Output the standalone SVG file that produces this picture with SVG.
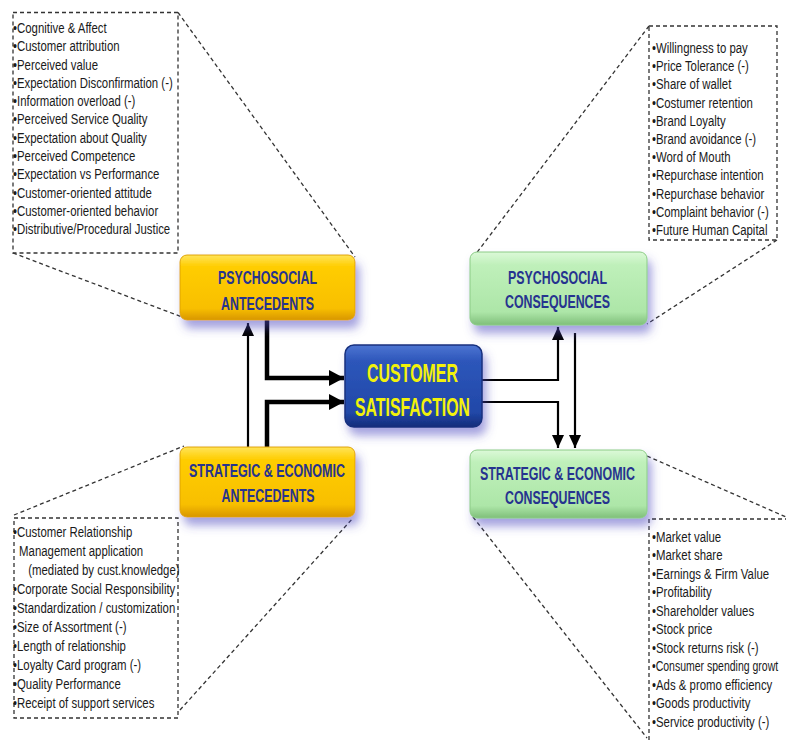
<svg xmlns="http://www.w3.org/2000/svg" width="786" height="740" viewBox="0 0 786 740">
<style>
.dash{fill:none;stroke:#333;stroke-width:1.3;stroke-dasharray:4 3}
.list text{font-family:"Liberation Sans",Arial,sans-serif;font-size:15px;fill:#1a1a1a}
.nt{font-family:"Liberation Sans",Arial,sans-serif;font-weight:bold;font-size:19px;fill:#26338f;text-anchor:middle}
.ct{font-family:"Liberation Sans",Arial,sans-serif;font-weight:bold;font-size:26px;fill:#f2f20a;text-anchor:middle}
.thin{fill:none;stroke:#000;stroke-width:2.2}
.thick{fill:none;stroke:#000;stroke-width:4.5}
</style>
<defs>
<linearGradient id="gy" x1="0" y1="0" x2="0" y2="1">
<stop offset="0" stop-color="#ffe45a"/><stop offset="0.18" stop-color="#ffcd00"/><stop offset="0.82" stop-color="#f8bf00"/><stop offset="1" stop-color="#d89600"/>
</linearGradient>
<linearGradient id="gg" x1="0" y1="0" x2="0" y2="1">
<stop offset="0" stop-color="#dcf9d8"/><stop offset="0.18" stop-color="#bff0ba"/><stop offset="0.82" stop-color="#ade6a8"/><stop offset="1" stop-color="#7fbf7a"/>
</linearGradient>
<linearGradient id="gb" x1="0" y1="0" x2="0" y2="1">
<stop offset="0" stop-color="#4d75d2"/><stop offset="0.2" stop-color="#2d56ba"/><stop offset="0.82" stop-color="#2148a8"/><stop offset="1" stop-color="#152c7a"/>
</linearGradient>
<filter id="sh" x="-20%" y="-30%" width="150%" height="190%">
<feDropShadow dx="4" dy="8" stdDeviation="5" flood-color="#4c44c0" flood-opacity="0.5"/>
</filter>
<marker id="ah" markerUnits="userSpaceOnUse" markerWidth="14" markerHeight="12" refX="13" refY="6" orient="auto">
<path d="M0,0 L13,6 L0,12 Z" fill="#000"/>
</marker>
<marker id="ahb" markerUnits="userSpaceOnUse" markerWidth="16" markerHeight="16" refX="15" refY="8" orient="auto">
<path d="M0,0 L15,8 L0,16 Z" fill="#000"/>
</marker>
</defs>
<rect width="786" height="740" fill="#fff"/>

<g id="callout-psych-ante">
<rect class="dash" x="13" y="12.5" width="165" height="240.5"/>
<line class="dash" x1="178" y1="12.5" x2="355" y2="257"/>
<line class="dash" x1="13" y1="253" x2="182" y2="317"/>
<g class="list" transform="translate(13,0) scale(0.76,1)">
<text x="0" y="33">•Cognitive &amp; Affect</text>
<text x="0" y="51.3">•Customer attribution</text>
<text x="0" y="69.6">•Perceived value</text>
<text x="0" y="87.9">•Expectation Disconfirmation (-)</text>
<text x="0" y="106.2">•Information overload (-)</text>
<text x="0" y="124.5">•Perceived Service Quality</text>
<text x="0" y="142.8">•Expectation about Quality</text>
<text x="0" y="161.1">•Perceived Competence</text>
<text x="0" y="179.4">•Expectation vs Performance</text>
<text x="0" y="197.7">•Customer-oriented attitude</text>
<text x="0" y="216">•Customer-oriented behavior</text>
<text x="0" y="234.3">•Distributive/Procedural Justice</text>
</g>
</g>

<g id="callout-psych-cons">
<rect class="dash" x="649" y="26" width="128" height="214"/>
<line class="dash" x1="649" y1="26" x2="472" y2="259"/>
<line class="dash" x1="777" y1="240" x2="647" y2="324"/>
<g class="list" transform="translate(652,0) scale(0.76,1)">
<text x="0" y="53">•Willingness to pay</text>
<text x="0" y="71.2">•Price Tolerance (-)</text>
<text x="0" y="89.4">•Share of wallet</text>
<text x="0" y="107.6">•Costumer retention</text>
<text x="0" y="125.8">•Brand Loyalty</text>
<text x="0" y="144">•Brand avoidance (-)</text>
<text x="0" y="162.2">•Word of Mouth</text>
<text x="0" y="180.4">•Repurchase intention</text>
<text x="0" y="198.6">•Repurchase behavior</text>
<text x="0" y="216.8">•Complaint behavior (-)</text>
<text x="0" y="235">•Future Human Capital</text>
</g>
</g>

<g id="callout-strat-ante">
<rect class="dash" x="14" y="518" width="164" height="200"/>
<line class="dash" x1="14" y1="515" x2="184" y2="446"/>
<line class="dash" x1="180" y1="710" x2="353" y2="518"/>
<g class="list" transform="translate(13,0) scale(0.76,1)">
<text x="0" y="537">•Customer Relationship</text>
<text x="8" y="556">Management application</text>
<text x="20" y="575">(mediated by cust.knowledge)</text>
<text x="0" y="594">•Corporate Social Responsibility</text>
<text x="0" y="613">•Standardization / customization</text>
<text x="0" y="632">•Size of Assortment (-)</text>
<text x="0" y="651">•Length of relationship</text>
<text x="0" y="670">•Loyalty  Card program (-)</text>
<text x="0" y="689">•Quality Performance</text>
<text x="0" y="708">•Receipt of support services</text>
</g>
</g>

<g id="callout-strat-cons">
<path class="dash" d="M649,740 V519 H786"/>
<line class="dash" x1="473" y1="517" x2="647" y2="738"/>
<line class="dash" x1="647" y1="456" x2="786" y2="517"/>
<g class="list" transform="translate(652,0) scale(0.76,1)">
<text x="0" y="542">•Market value</text>
<text x="0" y="560.5">•Market share</text>
<text x="0" y="579">•Earnings &amp; Firm Value</text>
<text x="0" y="597.5">•Profitability</text>
<text x="0" y="616">•Shareholder values</text>
<text x="0" y="634.5">•Stock price</text>
<text x="0" y="653">•Stock returns risk (-)</text>
<text x="0" y="690">•Ads &amp; promo efficiency</text>
<text x="0" y="708.5">•Goods productivity</text>
<text x="0" y="727">•Service productivity (-)</text>
</g>
<g class="list" transform="translate(652,0) scale(0.70,1)">
<text x="0" y="671.5">•Consumer spending growt</text>
</g>
</g>

<g id="connectors">
<line class="thin" x1="248" y1="447" x2="248" y2="323" marker-end="url(#ah)"/>
<path class="thick" d="M267,320 V378 H344" marker-end="url(#ahb)"/>
<path class="thick" d="M267,447 V402 H344" marker-end="url(#ahb)"/>
<path class="thin" d="M482,380 H558 V327" marker-end="url(#ah)"/>
<path class="thin" d="M482,402 H558 V448" marker-end="url(#ah)"/>
<line class="thin" x1="575" y1="333" x2="575" y2="448" marker-end="url(#ah)"/>
</g>

<g id="node-psych-ante">
<rect x="180" y="255" width="175" height="65" rx="7" fill="url(#gy)" stroke="#e0a400" stroke-width="1" filter="url(#sh)"/>
<text class="nt" x="267.5" y="284" textLength="99" lengthAdjust="spacingAndGlyphs">PSYCHOSOCIAL</text>
<text class="nt" x="267.5" y="310" textLength="93" lengthAdjust="spacingAndGlyphs">ANTECEDENTS</text>
</g>

<g id="node-strat-ante">
<rect x="180" y="447" width="175" height="70" rx="7" fill="url(#gy)" stroke="#e0a400" stroke-width="1" filter="url(#sh)"/>
<text class="nt" x="267" y="477" textLength="156" lengthAdjust="spacingAndGlyphs">STRATEGIC &amp; ECONOMIC</text>
<text class="nt" x="268" y="502" textLength="93" lengthAdjust="spacingAndGlyphs">ANTECEDENTS</text>
</g>

<g id="node-cs">
<rect x="345" y="345" width="137" height="82" rx="9" fill="url(#gb)" stroke="#18307e" stroke-width="1.5" filter="url(#sh)"/>
<text class="ct" x="412.5" y="382" textLength="91" lengthAdjust="spacingAndGlyphs">CUSTOMER</text>
<text class="ct" x="412.5" y="416" textLength="115" lengthAdjust="spacingAndGlyphs">SATISFACTION</text>
</g>

<g id="node-psych-cons">
<rect x="470" y="252" width="177" height="73" rx="7" fill="url(#gg)" stroke="#8ccc86" stroke-width="1" filter="url(#sh)"/>
<text class="nt" x="557.5" y="284" textLength="99" lengthAdjust="spacingAndGlyphs">PSYCHOSOCIAL</text>
<text class="nt" x="557.5" y="308" textLength="105" lengthAdjust="spacingAndGlyphs">CONSEQUENCES</text>
</g>

<g id="node-strat-cons">
<rect x="470" y="450" width="177" height="68" rx="7" fill="url(#gg)" stroke="#8ccc86" stroke-width="1" filter="url(#sh)"/>
<text class="nt" x="557.5" y="480" textLength="155" lengthAdjust="spacingAndGlyphs">STRATEGIC &amp; ECONOMIC</text>
<text class="nt" x="557.5" y="504" textLength="105" lengthAdjust="spacingAndGlyphs">CONSEQUENCES</text>
</g>
</svg>
